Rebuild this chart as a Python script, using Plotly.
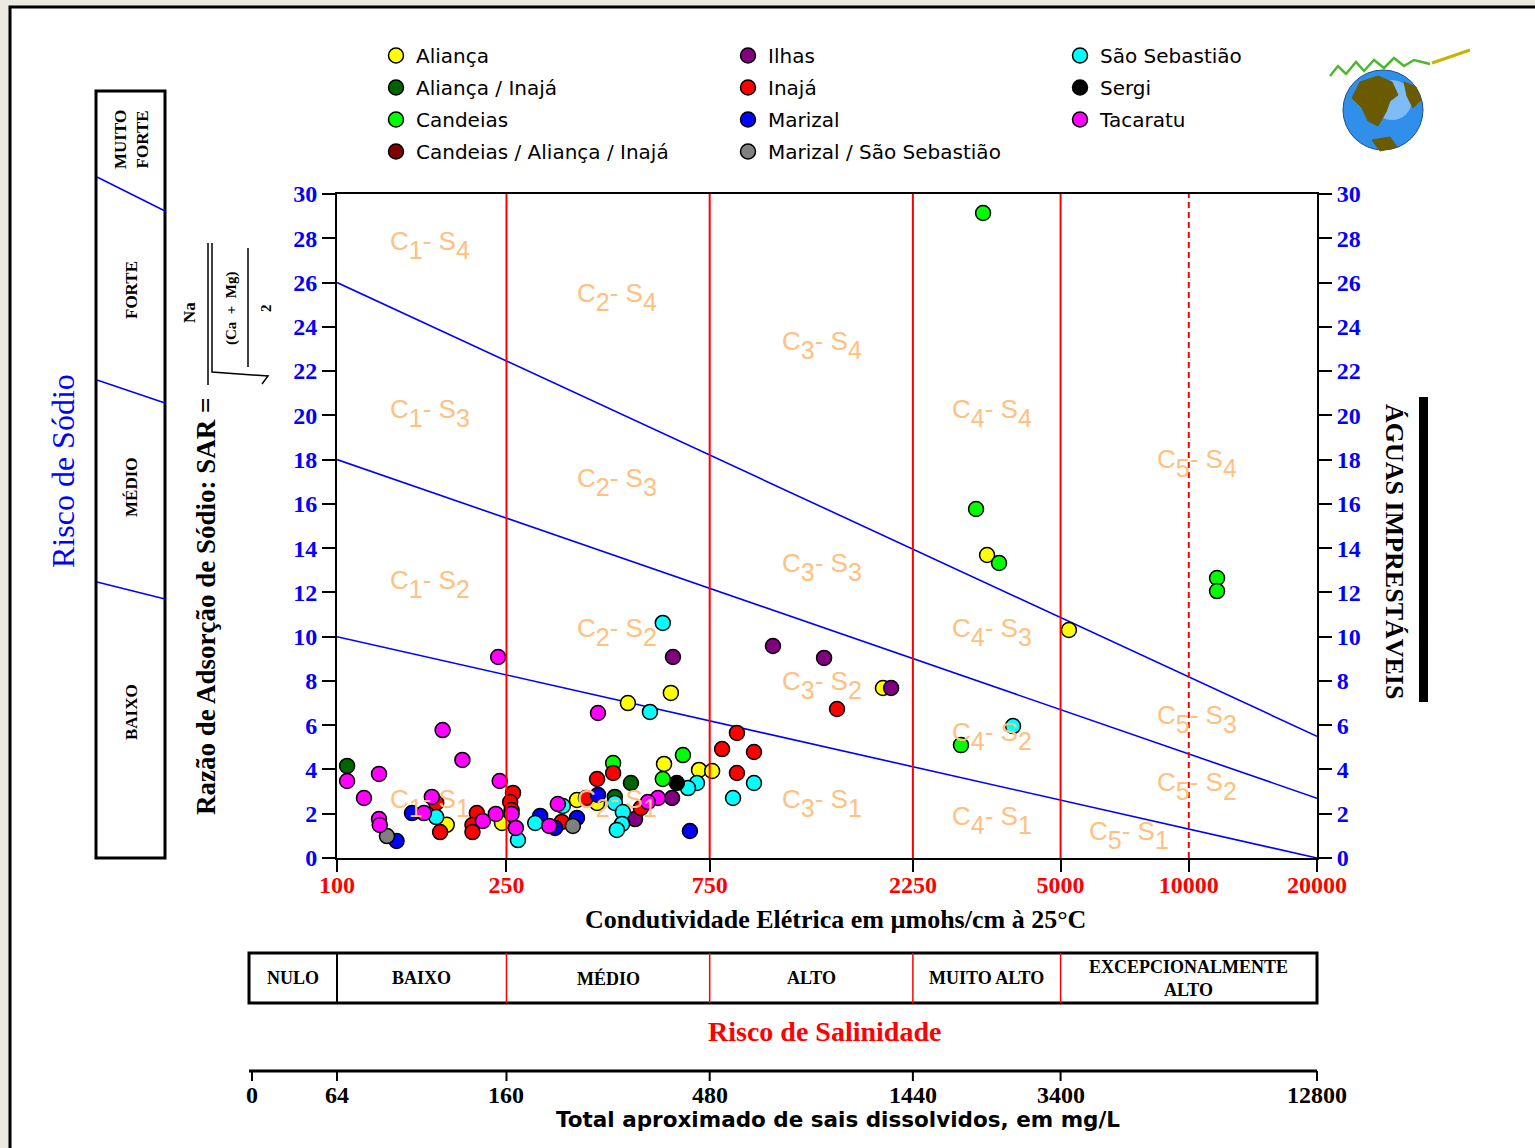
import math
import plotly.graph_objects as go

W, H = 1535, 1148

# ---------------- data (EC in µmhos/cm, SAR) ----------------
series_names = ["Aliança", "Aliança / Inajá", "Candeias", "Candeias / Aliança / Inajá",
                "Ilhas", "Inajá", "Marizal", "Marizal / São Sebastião",
                "São Sebastião", "Sergi", "Tacaratu"]
series_colors = ["#FFFF00", "#006400", "#00FF00", "#800000",
                 "#800080", "#FF0000", "#0000FF", "#808080",
                 "#00FFFF", "#000000", "#FF00FF"]

alianca_ce = [181, 244, 482, 608, 586, 708, 760, 366, 408, 1914, 3360, 5230]
alianca_sar = [1.5, 1.58, 7.0, 7.46, 4.25, 3.98, 3.93, 2.62, 2.49, 7.68, 13.69, 10.3]

alianca_inaja_ce = [105.6, 490, 449]
alianca_inaja_sar = [4.16, 3.39, 2.76]

candeias_ce = [649, 445, 582, 3288, 3166, 3585, 11650, 11650, 2918]
candeias_sar = [4.65, 4.29, 3.57, 29.14, 15.77, 13.33, 12.65, 12.06, 5.1]

cand_ali_ina_ce = []
cand_ali_ina_sar = []

ilhas_ce = [615, 612, 501, 1056, 1392, 2000]
ilhas_sar = [9.08, 2.71, 1.76, 9.58, 9.04, 7.68]

inaja_ce = [259, 255, 257, 171, 174.6, 213, 208, 208, 445, 408, 517, 384, 337, 1493, 869, 802, 953, 869]
inaja_sar = [2.94, 2.53, 2.17, 2.49, 1.17, 2.03, 1.49, 1.17, 3.84, 3.57, 2.26, 2.71, 1.63, 6.73, 5.65, 4.92, 4.79, 3.84]

marizal_ce = [150, 138, 410, 300, 325, 366, 674]
marizal_sar = [2.03, 0.77, 2.85, 1.9, 1.36, 1.81, 1.22]

marizal_ss_ce = [131, 358]
marizal_ss_sar = [0.99, 1.45]

sao_seb_ce = [171, 266, 582, 543, 700, 667, 449, 469, 467, 454, 339, 292, 953, 851, 3866]
sao_seb_sar = [1.85, 0.81, 10.62, 6.6, 3.39, 3.16, 2.49, 2.08, 1.54, 1.27, 2.35, 1.58, 3.39, 2.71, 5.96]

sergi_ce = [628]
sergi_sar = [3.39]

tacaratu_ce = [239, 177, 197, 105.6, 125.5, 115.7, 241, 167, 160, 125.5, 126, 220, 236, 257, 263, 410, 567, 537, 330, 315]
tacaratu_sar = [9.08, 5.78, 4.43, 3.48, 3.8, 2.71, 3.48, 2.76, 2.03, 1.76, 1.49, 1.67, 1.99, 1.99, 1.36, 6.55, 2.71, 2.53, 2.44, 1.45]

series_ce = [alianca_ce, alianca_inaja_ce, candeias_ce, cand_ali_ina_ce, ilhas_ce, inaja_ce,
             marizal_ce, marizal_ss_ce, sao_seb_ce, sergi_ce, tacaratu_ce]
series_sar = [alianca_sar, alianca_inaja_sar, candeias_sar, cand_ali_ina_sar, ilhas_sar, inaja_sar,
              marizal_sar, marizal_ss_sar, sao_seb_sar, sergi_sar, tacaratu_sar]
series_legend = ["legend", "legend", "legend", "legend",
                 "legend2", "legend2", "legend2", "legend2",
                 "legend3", "legend3", "legend3"]

# class boundaries
ce_min, ce_max = 100, 20000
ce_bounds = [250, 750, 2250, 5000]
ce_dashed = [10000]
sar_line_start = [10, 18, 26]     # SAR at EC = 100
sar_line_end = [0, 2.7, 5.5]      # SAR at EC = 20000

ce_ticks = [100, 250, 750, 2250, 5000, 10000, 20000]
sar_ticks = [0, 2, 4, 6, 8, 10, 12, 14, 16, 18, 20, 22, 24, 26, 28, 30]
tds_labels = ["0", "64", "160", "480", "1440", "3400", "12800"]
tds_ce = [None, 100, 250, 750, 2250, 5000, 20000]

salinity_labels = ["NULO", "BAIXO", "MÉDIO", "ALTO", "MUITO ALTO", "EXCEPCIONALMENTE<br>ALTO"]
sodium_labels = ["BAIXO", "MÉDIO", "FORTE", "MUITO<br>FORTE"]

# region labels: (C class, S class, EC at left of label, SAR at label centre)
region_labels = [
    (1, 4, 131.7, 27.7), (2, 4, 362, 25.35), (3, 4, 1097, 23.2), (4, 4, 2750, 20.1), (5, 4, 8330, 17.85),
    (1, 3, 131.7, 20.1), (2, 3, 362, 17.0), (3, 3, 1097, 13.15), (4, 3, 2750, 10.2), (5, 3, 8330, 6.3),
    (1, 2, 131.7, 12.4), (2, 2, 362, 10.2), (3, 2, 1097, 7.8), (4, 2, 2750, 5.5), (5, 2, 8330, 3.25),
    (1, 1, 131.7, 2.5), (2, 1, 362, 2.5), (3, 1, 1097, 2.5), (4, 1, 2750, 1.7), (5, 1, 5768, 1.05),
]

# ---------------- geometry helpers ----------------
XD0, XD1 = 337 / W, 1317 / W
YD0, YD1 = 1 - 858 / H, 1 - 194 / H


def px(p):
    return p / W


def py(p):
    return 1 - p / H


def ce_to_paper(v):
    return XD0 + (math.log10(v) - 2) / (math.log10(ce_max) - 2) * (XD1 - XD0)


SERIF = "Liberation Serif"
SANS = "DejaVu Sans"

fig = go.Figure()

# vertical class lines
for v in ce_bounds:
    fig.add_trace(go.Scatter(x=[v, v], y=[0, 30], mode="lines", yaxis="y2",
                             line=dict(color="#FF0000", width=2), showlegend=False, hoverinfo="skip"))
for v in ce_dashed:
    fig.add_trace(go.Scatter(x=[v, v], y=[0, 30], mode="lines", yaxis="y2",
                             line=dict(color="#FF0000", width=2, dash="6px,4px"), showlegend=False,
                             hoverinfo="skip"))
# SAR class lines
for a, b in zip(sar_line_start, sar_line_end):
    fig.add_trace(go.Scatter(x=[ce_min, ce_max], y=[a, b], mode="lines",
                             line=dict(color="#0000FF", width=1.6), showlegend=False, hoverinfo="skip"))

# data points
for name, col, xs, ys, lg in zip(series_names, series_colors, series_ce, series_sar, series_legend):
    fig.add_trace(go.Scatter(
        x=xs if xs else [None], y=ys if ys else [None], mode="markers", name=name,
        legend=lg, legendgroup=name,
        marker=dict(size=15, color=col, line=dict(color="black", width=1.5)),
        cliponaxis=False,
    ))

shapes = []
annotations = []


def ann(text, x, y, size, color="black", family=SERIF, angle=0, xanchor="center", yanchor="middle",
        xref="paper", yref="paper"):
    annotations.append(dict(text=text, x=x, y=y, xref=xref, yref=yref, showarrow=False,
                            textangle=angle, xanchor=xanchor, yanchor=yanchor,
                            font=dict(family=family, size=size, color=color)))


def line(x0, y0, x1, y1, color="black", width=2, dash=None):
    d = dict(type="line", xref="paper", yref="paper", x0=x0, y0=y0, x1=x1, y1=y1,
             line=dict(color=color, width=width))
    if dash:
        d["line"]["dash"] = dash
    shapes.append(d)


def rect(x0, y0, x1, y1, color="black", width=3, fill="rgba(0,0,0,0)", layer="above"):
    shapes.append(dict(type="rect", xref="paper", yref="paper", x0=x0, y0=y0, x1=x1, y1=y1,
                       line=dict(color=color, width=width), fillcolor=fill, layer=layer))


def path(points, color, fill=None, width=1.5):
    d = "M " + " L ".join(f"{px(a)},{py(b)}" for a, b in points)
    if fill:
        d += " Z"
    shapes.append(dict(type="path", xref="paper", yref="paper", path=d,
                       line=dict(color=color, width=width), fillcolor=fill if fill else "rgba(0,0,0,0)"))


# page frame
rect(px(10), py(1170), px(1560), py(7), color="black", width=3, fill="white", layer="below")

# region labels (subscripts kept at full size and lowered)
SUB = '<sub><sub><span style="font-size:25px">{}</span></sub></sub>'
for c, s, xv, yv in region_labels:
    txt = "C" + SUB.format(c) + "- S" + SUB.format(s)
    ann(txt, math.log10(xv), yv, 26, color="#FFC080",
        family="Liberation Sans", xanchor="left", xref="x", yref="y")

# left sodium-hazard box
rect(px(96), py(858), px(165), py(91), width=3)
line(px(97), py(582), px(165), py(599), color="#0000FF", width=1.5)
line(px(97), py(380), px(165), py(403), color="#0000FF", width=1.5)
line(px(97), py(177), px(165), py(211), color="#0000FF", width=1.5)
for lab, yc in zip(sodium_labels, [712, 487, 290, 140]):
    ann(f"<b>{lab}</b>", px(131), py(yc), 17, angle=-90)
ann("Risco de Sódio", px(63), py(471), 32, color="#0000FF", angle=-90)

# y-axis title with SAR formula
ann("<b>Razão de Adsorção de Sódio: SAR =</b>", px(206), py(607), 27, angle=-90)
ann("<b>Na</b>", px(190), py(313), 17, angle=-90)
line(px(208), py(243), px(208), py(385), width=1.5)
path([(212, 243), (212, 372), (268, 376), (262, 384)], "black", width=1.5)
ann("<b>(Ca  +  Mg)</b>", px(231), py(308), 15, angle=-90)
line(px(248), py(248), px(248), py(367), width=1.5)
ann("<b>2</b>", px(266), py(308), 15, angle=-90)

# right side: unusable waters
ann("<b>ÁGUAS IMPRESTÁVEIS</b>", px(1395), py(551), 26, angle=90)
rect(px(1419), py(702), px(1428), py(397), width=0, fill="black")

# x-axis title
ann("<b>Condutividade Elétrica em µmohs/cm à 25°C</b>", px(835), py(919), 26)

# salinity hazard table
tbl_left = px(249)
edges = [tbl_left, ce_to_paper(ce_min)] + [ce_to_paper(v) for v in ce_bounds] + [ce_to_paper(ce_max)]
rect(tbl_left, py(1003), ce_to_paper(ce_max), py(953), width=3)
line(ce_to_paper(ce_min), py(953), ce_to_paper(ce_min), py(1003), color="black", width=2)
for v in ce_bounds:
    line(ce_to_paper(v), py(953), ce_to_paper(v), py(1003), color="#FF0000", width=1.5)
for i, lab in enumerate(salinity_labels):
    ann(f"<b>{lab}</b>", (edges[i] + edges[i + 1]) / 2, py(978), 18)
ann("<b>Risco de Salinidade</b>", px(824), py(1031), 28, color="#FF0000")

# TDS axis
line(tbl_left, py(1071), ce_to_paper(ce_max), py(1071), width=3)
for lab, v in zip(tds_labels, tds_ce):
    xp = ce_to_paper(v) if v else px(252)
    line(xp, py(1071), xp, py(1081), width=2)
    ann(f"<b>{lab}</b>", xp, py(1095), 24)
ann("<b>Total aproximado de sais dissolvidos, em mg/L</b>", px(838), py(1119), 21.5, family=SANS)

# logo (globe)
shapes.append(dict(type="circle", xref="paper", yref="paper", x0=px(1343), x1=px(1423), y0=py(150), y1=py(70),
                   fillcolor="#2F8FEA", line=dict(color="#1B4F8A", width=1)))
shapes.append(dict(type="circle", xref="paper", yref="paper", x0=px(1372), x1=px(1412), y0=py(120), y1=py(80),
                   fillcolor="rgba(190,225,255,0.55)", line=dict(width=0)))
path([(1352, 98), (1360, 82), (1378, 76), (1392, 82), (1398, 95), (1390, 101), (1386, 112), (1378, 126),
      (1368, 121), (1362, 108)], "#6B5B00", fill="#6B5B00", width=1)
path([(1372, 140), (1390, 137), (1397, 147), (1380, 151)], "#6B5B00", fill="#6B5B00", width=1)
path([(1404, 82), (1416, 87), (1421, 100), (1413, 108), (1407, 96)], "#6B5B00", fill="#6B5B00", width=1)
path([(1330, 76), (1338, 66), (1346, 74), (1356, 62), (1364, 71), (1374, 60), (1384, 68), (1394, 58),
      (1404, 66), (1414, 60), (1430, 64)], "#4CB82A", width=2.5)
path([(1432, 63), (1470, 50)], "#C8B400", width=3)

axis_font_common = dict(family=SERIF, size=24, weight="bold")
legend_common = dict(xanchor="left", yanchor="top", bgcolor="rgba(0,0,0,0)",
                     font=dict(family=SANS, size=20, color="black"), tracegroupgap=3, traceorder="grouped")

fig.update_layout(
    template="none",
    width=W, height=H, autosize=False,
    margin=dict(l=0, r=0, t=0, b=0, pad=0, autoexpand=False),
    paper_bgcolor="#ECE9E0", plot_bgcolor="white",
    xaxis=dict(type="log", range=[2, math.log10(ce_max)], domain=[XD0, XD1], automargin=False,
               tickvals=ce_ticks, ticktext=[str(v) for v in ce_ticks],
               tickfont=dict(color="#FF0000", **axis_font_common),
               ticks="outside", ticklen=12, tickwidth=2, tickcolor="black", ticklabelstandoff=-8,
               showline=True, linecolor="black", linewidth=2, mirror=True,
               showgrid=False, zeroline=False),
    yaxis=dict(range=[0, 30], domain=[YD0, YD1], tickvals=sar_ticks, automargin=False,
               tickfont=dict(color="#0000FF", **axis_font_common),
               ticks="outside", ticklen=13, tickwidth=2, tickcolor="black",
               showline=True, linecolor="black", linewidth=2,
               showgrid=False, zeroline=False),
    yaxis2=dict(range=[0, 30], overlaying="y", side="right", anchor="x", tickvals=sar_ticks, automargin=False,
                tickfont=dict(color="#0000FF", **axis_font_common),
                ticks="outside", ticklen=13, tickwidth=2, tickcolor="black",
                showline=True, linecolor="black", linewidth=2,
                showgrid=False, zeroline=False),
    legend=dict(x=px(376), y=py(36), **legend_common),
    legend2=dict(x=px(728), y=py(36), **legend_common),
    legend3=dict(x=px(1060), y=py(36), **legend_common),
    shapes=shapes,
    annotations=annotations,
    hovermode="closest",
)

fig.write_html("out.html", config={"displayModeBar": False},
               post_script="document.body.style.margin='0px'; document.body.style.overflow='hidden';")
